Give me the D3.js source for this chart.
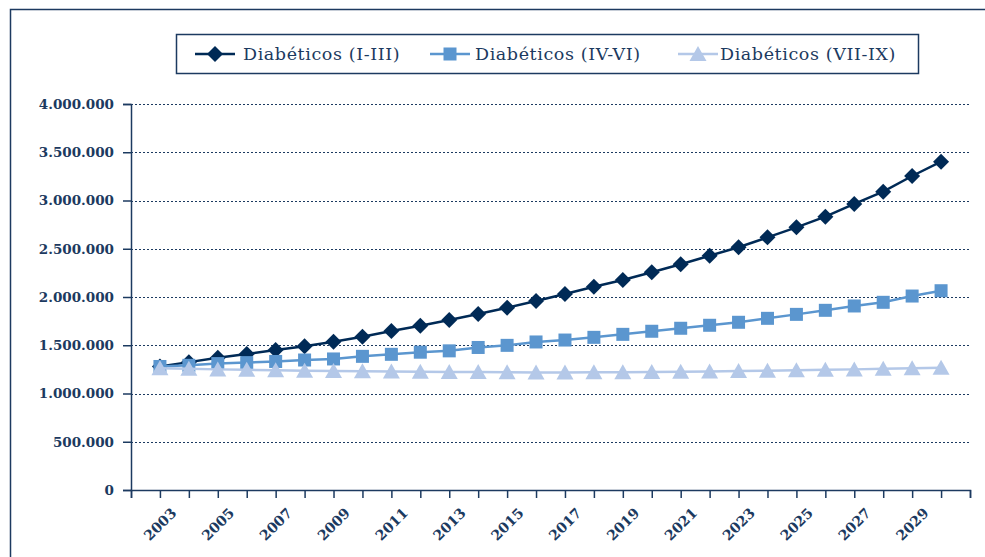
<!DOCTYPE html>
<html>
<head>
<meta charset="utf-8">
<script src="https://cdn.jsdelivr.net/npm/d3@7/dist/d3.min.js"></script>
<style>
  html, body { margin: 0; padding: 0; background: #fff; }
  svg { display: block; }
</style>
</head>
<body>
<svg id="chart" width="985" height="557"></svg>
<script>
// Projected number of diabetics by group, 2003–2030
const years = d3.range(2003, 2031);
const seriesNames = ["Diabéticos (I-III)", "Diabéticos (IV-VI)", "Diabéticos (VII-IX)"];
const groupI_III = [1280000, 1325000, 1370000, 1410000, 1450000, 1490000, 1537000, 1589000, 1648000, 1703000,
  1762000, 1824000, 1889000, 1959000, 2031000, 2107000, 2176000, 2256000, 2339000, 2428000,
  2515000, 2618000, 2722000, 2832000, 2964000, 3091000, 3254000, 3402000];
const groupIV_VI = [1280000, 1292000, 1310000, 1320000, 1332000, 1347000, 1358000, 1385000, 1406000, 1428000,
  1442000, 1477000, 1499000, 1534000, 1554000, 1582000, 1613000, 1645000, 1676000, 1707000,
  1738000, 1779000, 1820000, 1862000, 1907000, 1945000, 2010000, 2065000];
const groupVII_IX = [1262000, 1256000, 1250000, 1245000, 1240000, 1236000, 1232000, 1230000, 1228000, 1226000,
  1224000, 1222000, 1220000, 1218000, 1218000, 1219000, 1221000, 1223000, 1226000, 1229000,
  1232000, 1236000, 1240000, 1245000, 1250000, 1256000, 1262000, 1268000];
const yTicks = [0, 500000, 1000000, 1500000, 2000000, 2500000, 3000000, 3500000, 4000000];
const xLabelYears = d3.range(2003, 2030, 2);

const navy = "#1c3a60";
const colors = ["#002a56", "#5b96cf", "#b4c8e8"];
const markers = ["diamond", "square", "triangle"];
const values = [groupI_III, groupIV_VI, groupVII_IX];

const svg = d3.select("#chart");
const serif = "'DejaVu Serif', 'Liberation Serif', serif";

// outer frame
svg.append("path")
  .attr("d", "M10.5,557 L10.5,9.5 L985,9.5")
  .attr("fill", "none").attr("stroke", navy).attr("stroke-width", 1.5);

const margin = { left: 131, right: 970, top: 104, bottom: 490 };
const x = d3.scaleLinear().domain([2002, 2031]).range([margin.left, margin.right]);
const y = d3.scaleLinear().domain([0, 4000000]).range([margin.bottom, margin.top]);

const fmt = v => d3.format(",")(v).replace(/,/g, ".");

// gridlines
svg.append("g").selectAll("line").data(yTicks.filter(d => d > 0)).join("line")
  .attr("x1", margin.left).attr("x2", margin.right)
  .attr("y1", d => Math.round(y(d)) + 0.5).attr("y2", d => Math.round(y(d)) + 0.5)
  .attr("stroke", navy).attr("stroke-width", 1.2).attr("stroke-dasharray", "2,2");

// y axis
const yAxis = svg.append("g")
  .attr("transform", `translate(${margin.left},0)`)
  .call(d3.axisLeft(y).tickValues(yTicks).tickFormat(fmt).tickSize(8).tickPadding(9));
yAxis.select(".domain").attr("stroke", navy).attr("stroke-width", 1.5);
yAxis.selectAll(".tick line").attr("stroke", navy).attr("stroke-width", 1.5);
yAxis.selectAll(".tick text")
  .attr("fill", navy).attr("font-family", serif).attr("font-weight", "bold").attr("font-size", 13.5);

// x axis
const xAxis = svg.append("g")
  .attr("transform", `translate(0,${margin.bottom})`)
  .call(d3.axisBottom(x).tickValues(d3.range(2002, 2032)).tickFormat(d => xLabelYears.includes(d) ? d : "").tickSize(8));
xAxis.select(".domain").attr("stroke", navy).attr("stroke-width", 1.5);
xAxis.selectAll(".tick line").attr("stroke", navy).attr("stroke-width", 1.5);
xAxis.selectAll(".tick text")
  .attr("fill", navy).attr("font-family", serif).attr("font-weight", "bold").attr("font-size", 14)
  .attr("text-anchor", "end")
  .attr("transform", "translate(10,17) rotate(-45)")
  .attr("dy", "0.7em").attr("y", 0).attr("x", 0);

// marker shapes
function drawMarker(sel, type, color, cx, cy) {
  if (type === "diamond") {
    sel.append("path").attr("d", `M${cx},${cy - 8}L${cx + 8},${cy}L${cx},${cy + 8}L${cx - 8},${cy}Z`).attr("fill", color);
  } else if (type === "square") {
    sel.append("rect").attr("x", cx - 6.5).attr("y", cy - 6.5).attr("width", 13).attr("height", 13).attr("fill", color);
  } else {
    sel.append("path").attr("d", `M${cx},${cy - 8}L${cx + 8.5},${cy + 7}L${cx - 8.5},${cy + 7}Z`).attr("fill", color);
  }
}

const line = d3.line().x((d, i) => x(years[i])).y(d => y(d));

values.forEach((vals, s) => {
  const g = svg.append("g");
  g.append("path").datum(vals).attr("d", line)
    .attr("fill", "none").attr("stroke", colors[s]).attr("stroke-width", 2.5);
  vals.forEach((v, i) => drawMarker(g, markers[s], colors[s], x(years[i]), y(v)));
});

// legend
const legend = svg.append("g");
legend.append("rect").attr("x", 176.5).attr("y", 34.5).attr("width", 742).attr("height", 39)
  .attr("fill", "#fff").attr("stroke", navy).attr("stroke-width", 1.5);
const legendX = [195, 430, 678];
const legendTextX = [243, 475, 720];
seriesNames.forEach((name, s) => {
  const lx = legendX[s], ly = 54;
  legend.append("line").attr("x1", lx).attr("x2", lx + 40).attr("y1", ly).attr("y2", ly)
    .attr("stroke", colors[s]).attr("stroke-width", 2.5);
  drawMarker(legend, markers[s], colors[s], lx + 20, ly);
  legend.append("text").attr("x", legendTextX[s]).attr("y", ly + 6)
    .attr("fill", navy).attr("font-family", serif).attr("font-size", 17.5)
    .attr("letter-spacing", 0.6)
    .text(name);
});
</script>
</body>
</html>
